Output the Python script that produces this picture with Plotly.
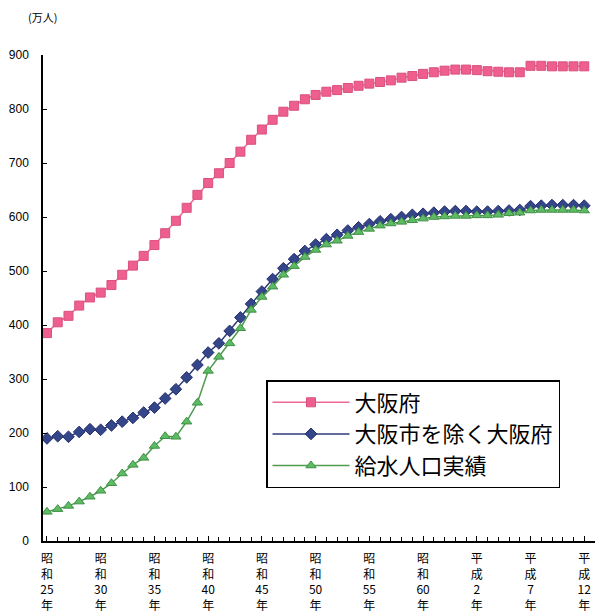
import plotly.graph_objects as go

years = list(range(1950, 2001))

osaka_pref = [385, 405, 417, 436, 451, 460, 474, 493, 510, 528,
              548, 570, 593, 617, 641, 663, 681, 700, 721, 743,
              762, 780, 795, 806, 818, 826, 832, 835, 839, 843,
              847, 850, 853, 858, 861, 865, 868, 871, 873, 873,
              872, 870, 869, 868, 868, 880, 880, 879, 879, 879, 879]

pref_excl_city = [190, 194, 193, 202, 207, 206, 214, 221, 228, 238,
                  247, 264, 281, 303, 326, 349, 366, 389, 414, 439,
                  462, 485, 505, 522, 537, 549, 559, 567, 575, 581,
                  587, 592, 596, 600, 604, 606, 608, 610, 611, 611,
                  610, 610, 611, 612, 613, 620, 621, 622, 622, 622, 621]

water_supply = [54, 59, 65, 73, 82, 93, 107, 125, 141, 154,
                176, 194, 193, 221, 256, 315, 341, 366, 394, 428,
                452, 471, 493, 509, 526, 539, 549, 556, 565, 572,
                578, 584, 588, 591, 594, 597, 600, 601, 602, 602,
                603, 603, 604, 607, 608, 612, 613, 613, 613, 613, 612]

tick_years = [1950, 1955, 1960, 1965, 1970, 1975, 1980, 1985, 1990, 1995, 2000]
tick_labels = ["昭<br>和<br>25<br>年", "昭<br>和<br>30<br>年", "昭<br>和<br>35<br>年",
               "昭<br>和<br>40<br>年", "昭<br>和<br>45<br>年", "昭<br>和<br>50<br>年",
               "昭<br>和<br>55<br>年", "昭<br>和<br>60<br>年", "平<br>成<br>2<br>年",
               "平<br>成<br>7<br>年", "平<br>成<br>12<br>年"]

names = ["大阪府", "大阪市を除く大阪府", "給水人口実績"]

fig = go.Figure()
fig.add_trace(go.Scatter(
    x=years, y=osaka_pref, name=names[0], mode="lines+markers",
    line=dict(color="#EE6A96", width=1.5),
    marker=dict(symbol="square", size=9, color="#EE5F8E",
                line=dict(color="#D9507F", width=1))))
fig.add_trace(go.Scatter(
    x=years, y=pref_excl_city, name=names[1], mode="lines+markers",
    line=dict(color="#2E3C78", width=1.5),
    marker=dict(symbol="diamond", size=9, color="#34458A",
                line=dict(color="#24306A", width=1))))
fig.add_trace(go.Scatter(
    x=years, y=water_supply, name=names[2], mode="lines+markers",
    line=dict(color="#4E9A4E", width=1.5),
    marker=dict(symbol="triangle-up", size=9, color="#5DBB63",
                line=dict(color="#3F8F45", width=1))))

PL, PT, PW, PH = 43, 55, 552, 486

fig.update_layout(
    width=595, height=612,
    margin=dict(l=PL, r=595 - PL - PW, t=PT, b=612 - PT - PH, autoexpand=False),
    paper_bgcolor="white", plot_bgcolor="white",
    font=dict(family="Noto Sans CJK JP, Liberation Sans, sans-serif", color="black"),
    showlegend=True,
    legend=dict(
        x=(266 - PL) / PW, y=(PT + PH - 380) / PH, xanchor="left", yanchor="top",
        bordercolor="black", borderwidth=1.5, bgcolor="white",
        font=dict(size=22, family="Noto Sans CJK JP", color="black"),
        itemwidth=77, tracegroupgap=0, itemsizing="trace"),
    annotations=[dict(
        text="(万人)", x=(42 - PL) / PW, y=(PT + PH - 17) / PH,
        xref="paper", yref="paper", xanchor="center", yanchor="middle",
        showarrow=False, font=dict(size=11, color="black"))],
)

fig.update_xaxes(
    range=[1949.63, 2001.0], automargin=False,
    showline=True, linecolor="black", linewidth=1.5,
    showgrid=False, zeroline=False,
    tickmode="array", tickvals=tick_years, ticktext=tick_labels,
    ticks="inside", ticklen=5, tickcolor="black",
    ticklabeloverflow="allow", ticklabelstandoff=6,
    tickfont=dict(size=12, family="Noto Sans CJK JP", color="black"),
    minor=dict(tickmode="linear", tick0=1950, dtick=1, ticks="inside",
               ticklen=4, tickcolor="black"),
)
fig.update_yaxes(
    range=[0, 900], dtick=100, automargin=False,
    showline=True, linecolor="black", linewidth=1.5,
    showgrid=False, zeroline=False,
    ticks="inside", ticklen=4, tickcolor="black",
    ticklabelstandoff=10,
    tickfont=dict(size=12, family="Liberation Sans", color="black"),
)

fig.write_html("out.html", config={"displayModeBar": False},
               post_script="document.body.style.margin='0px';")
